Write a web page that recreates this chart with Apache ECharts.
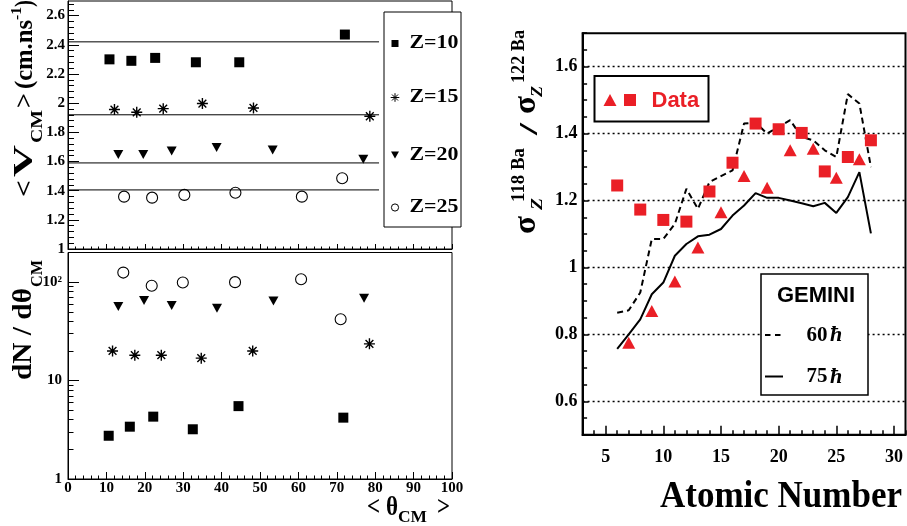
<!DOCTYPE html>
<html><head><meta charset="utf-8">
<script src="https://cdn.jsdelivr.net/npm/echarts@6/dist/echarts.min.js"></script>
<style>html,body{margin:0;padding:0;background:#fff}#c{width:907px;height:526px}</style>
</head><body><div id="c"></div>
<script>
// ---------------- data ----------------
const zLabels = ['Z=10', 'Z=15', 'Z=20', 'Z=25'];
// top-left panel: <V_CM> versus <theta_CM>
const vTheta10 = [10.8, 16.5, 22.7, 33.3, 44.6, 72.1];
const v10      = [2.30, 2.29, 2.31, 2.28, 2.28, 2.47];
const vTheta15 = [12.1, 17.9, 24.8, 35.0, 48.3, 78.6];
const v15      = [1.956, 1.937, 1.962, 1.997, 1.967, 1.91];
const vTheta20 = [13.1, 19.6, 27.0, 38.7, 53.3, 76.9];
const v20      = [1.648, 1.648, 1.671, 1.696, 1.678, 1.616];
const vTheta25 = [14.6, 21.9, 30.3, 43.6, 60.9, 71.4];
const v25      = [1.359, 1.352, 1.371, 1.386, 1.359, 1.485];
const vMeanLevels = [2.42, 1.92, 1.59, 1.405];
const vMeanThetaRange = [0, 81];
// bottom-left panel: dN/dtheta_CM versus <theta_CM>
const nTheta10 = [10.6, 16.1, 22.2, 32.5, 44.4, 71.7];
const n10      = [2.75, 3.4, 4.3, 3.2, 5.5, 4.2];
const nTheta15 = [11.6, 17.4, 24.3, 34.7, 48.1, 78.5];
const n15      = [20, 18.1, 18.1, 16.9, 20, 23.6];
const nTheta20 = [13.1, 19.8, 27.0, 38.8, 53.5, 77.1];
const n20      = [56.5, 65, 57.8, 54.4, 64.5, 68.7];
const nTheta25 = [14.4, 21.8, 29.9, 43.5, 60.7, 71.0];
const n25      = [125, 92, 99, 100, 107, 42];
// right panel: sigma ratio versus atomic number
const zSquares     = [6, 8, 10, 12, 14, 16, 18, 20, 22, 24, 26, 28];
const ratioSquares = [1.245, 1.173, 1.142, 1.137, 1.227, 1.313, 1.43, 1.413, 1.402, 1.287, 1.33, 1.38];
const zTriangles     = [7, 9, 11, 13, 15, 17, 19, 21, 23, 25, 27];
const ratioTriangles = [0.775, 0.87, 0.958, 1.06, 1.165, 1.273, 1.238, 1.35, 1.355, 1.268, 1.323];
const zGemini  = [6, 7, 8, 9, 10, 11, 12, 13, 14, 15, 16, 17, 18, 19, 20, 21, 22, 23, 24, 25, 26, 27, 28];
const gemini60 = [0.865, 0.872, 0.925, 1.085, 1.085, 1.13, 1.235, 1.175, 1.255, 1.273, 1.29, 1.43, 1.433, 1.40, 1.42, 1.44, 1.39, 1.38, 1.35, 1.33, 1.518, 1.49, 1.30];
const gemini75 = [0.757, 0.80, 0.845, 0.92, 0.955, 1.035, 1.07, 1.093, 1.098, 1.115, 1.155, 1.185, 1.222, 1.208, 1.208, 1.2, 1.192, 1.183, 1.193, 1.163, 1.21, 1.285, 1.102];
const geminiLabels = ['60 ', '75 '];
// tick labels
const thetaTicks = [0, 10, 20, 30, 40, 50, 60, 70, 80, 90, 100];
const vTicks     = [1, 1.2, 1.4, 1.6, 1.8, 2, 2.2, 2.4, 2.6];
const nTicks     = [1, 10, 100];
const zTicks     = [5, 10, 15, 20, 25, 30];
const ratioTicks = [0.6, 0.8, 1, 1.2, 1.4, 1.6];

// ---------------- helpers ----------------
const SERIF = '"Liberation Serif", "Times New Roman", serif';
const SANS = '"Liberation Sans", Arial, sans-serif';
const RED = '#ea1f26';
const ASTER = 'path://M5,0L5,10M0,5L10,5M1.46,1.46L8.54,8.54M8.54,1.46L1.46,8.54';
const zip = (a, b) => a.map((v, i) => [v, b[i]]);
function steps(a, b, s, skipMult) {
  const out = [];
  for (let k = 0; ; k++) {
    const v = Math.round((a + k * s) * 1000) / 1000;
    if (v > b + 1e-9) break;
    if (skipMult && Math.abs(v / skipMult - Math.round(v / skipMult)) < 1e-6) continue;
    out.push(v);
  }
  return out;
}
const logMinor = [2, 3, 4, 5, 6, 7, 8, 9, 20, 30, 40, 50, 60, 70, 80, 90, 200];

function mkAxis(o) {
  return {
    gridIndex: o.g, type: o.log ? 'log' : 'value', logBase: 10, min: o.min, max: o.max,
    position: o.pos, offset: 0,
    axisLine: { show: !!o.line, onZero: false, lineStyle: { color: '#000', width: o.lw || 1 } },
    axisTick: { show: true, inside: true, length: o.len, customValues: o.ticks, lineStyle: { color: '#000', width: o.tw || 1 } },
    axisLabel: o.labels ? { show: true, customValues: o.labels, margin: o.margin, color: '#000', fontFamily: SERIF, fontWeight: 'bold', fontSize: o.fs, formatter: o.fmt || (v => String(v)) } : { show: false },
    splitLine: o.split ? { show: true, lineStyle: { color: '#000', width: 1.3, type: [2, 3] } } : { show: false },
    minorTick: { show: false }, minorSplitLine: { show: false },
    splitArea: { show: false }
  };
}

const mctx = document.createElement('canvas').getContext('2d');
function fontStr(p, fam) { return (p.it ? 'italic ' : '') + 'bold ' + p.f + 'px ' + (fam || SERIF); }
function tw(t, font) { mctx.font = font; return mctx.measureText(t).width; }
// composite text: each part has local start x, target length, font size, baseline offset
function compText(ox, oy, rot, parts) {
  const kids = parts.map(p => {
    const font = fontStr(p);
    const w = tw(p.t, font);
    return {
      type: 'text', x: p.x, y: p.dy || 0, scaleX: p.len ? p.len / w : 1,
      style: { text: p.t, font: font, fill: '#000', align: 'left', verticalAlign: 'middle', textAlign: 'left', textVerticalAlign: 'middle' }
    };
  });
  return { type: 'group', x: ox, y: oy, rotation: rot, children: kids, z: 100 };
}
function txt(x, y, t, font, fill, align, len) {
  const w = tw(t, font);
  return { type: 'text', x: x, y: y, scaleX: len ? len / w : 1, z: 101,
    style: { text: t, font: font, fill: fill || '#000', align: align || 'left', verticalAlign: 'middle', textAlign: align || 'left', textVerticalAlign: 'middle' } };
}

// ---------------- axes ----------------
const xAxes = [
  mkAxis({ g: 0, min: 0, max: 100, pos: 'bottom', line: true, ticks: thetaTicks, len: 5 }),
  mkAxis({ g: 0, min: 0, max: 100, pos: 'bottom', ticks: steps(0, 100, 2, 10), len: 2.5 }),
  mkAxis({ g: 1, min: 0, max: 100, pos: 'bottom', line: true, ticks: thetaTicks, len: 7, labels: thetaTicks, margin: 1.5, fs: 15 }),
  mkAxis({ g: 1, min: 0, max: 100, pos: 'bottom', ticks: steps(0, 100, 2, 10), len: 3.5 }),
  mkAxis({ g: 2, min: 3, max: 31, pos: 'bottom', line: true, lw: 2, ticks: zTicks, len: 9, tw: 1.5, labels: zTicks, margin: 14, fs: 18 }),
  mkAxis({ g: 2, min: 3, max: 31, pos: 'bottom', ticks: steps(3, 31, 1, 5), len: 4.5, tw: 1.5 })
];
const yAxes = [
  mkAxis({ g: 0, min: 1, max: 2.7, pos: 'left', line: true, ticks: vTicks, len: 11, labels: vTicks, margin: 3, fs: 15 }),
  mkAxis({ g: 0, min: 1, max: 2.7, pos: 'left', ticks: steps(1, 2.7, 0.04, 0.2), len: 6 }),
  mkAxis({ g: 1, log: true, min: 1, max: 200, pos: 'left', line: true, ticks: nTicks, len: 11, labels: nTicks, margin: 6, fs: 15, fmt: v => (Math.abs(v - 100) < 1e-6 ? '10\u00b2' : String(Math.round(v))) }),
  mkAxis({ g: 1, log: true, min: 1, max: 200, pos: 'left', ticks: logMinor, len: 5.5 }),
  mkAxis({ g: 2, min: 0.5, max: 1.7, pos: 'left', line: true, lw: 2, ticks: ratioTicks, len: 6, tw: 1.5, labels: ratioTicks, margin: 5, fs: 18, split: true }),
  mkAxis({ g: 2, min: 0.5, max: 1.7, pos: 'left', ticks: steps(0.5, 1.7, 0.05, 0.2), len: 4.5, tw: 1.5 })
];

// ---------------- series ----------------
const blk = '#000';
function sc(name, xi, yi, data, sym, size, style, rot) {
  return { type: 'scatter', name, xAxisIndex: xi, yAxisIndex: yi, data, symbol: sym, symbolSize: size,
    symbolRotate: rot || 0, itemStyle: Object.assign({ opacity: 1 }, style), z: 3, silent: true };
}
const filled = { color: blk };
const starStyle = { color: 'rgba(0,0,0,0)', borderColor: blk, borderWidth: 1.4 };
const openStyle = { color: 'rgba(0,0,0,0)', borderColor: blk, borderWidth: 1.1 };
const series = [];
vMeanLevels.forEach(l => series.push({ type: 'line', xAxisIndex: 0, yAxisIndex: 0, silent: true, showSymbol: false, symbol: 'none',
  data: [[vMeanThetaRange[0], l], [vMeanThetaRange[1], l]], lineStyle: { color: blk, width: 1 }, z: 2 }));
series.push(
  sc(zLabels[0], 0, 0, zip(vTheta10, v10), 'rect', 10, filled),
  sc(zLabels[1], 0, 0, zip(vTheta15, v15), ASTER, 11, starStyle),
  sc(zLabels[2], 0, 0, zip(vTheta20, v20), 'triangle', [10, 9], filled, 180),
  sc(zLabels[3], 0, 0, zip(vTheta25, v25), 'circle', 11, openStyle),
  sc(zLabels[0], 2, 2, zip(nTheta10, n10), 'rect', 10, filled),
  sc(zLabels[1], 2, 2, zip(nTheta15, n15), ASTER, 11, starStyle),
  sc(zLabels[2], 2, 2, zip(nTheta20, n20), 'triangle', [10, 9], filled, 180),
  sc(zLabels[3], 2, 2, zip(nTheta25, n25), 'circle', 11, openStyle),
  { type: 'line', name: 'GEMINI 60', xAxisIndex: 4, yAxisIndex: 4, silent: true, showSymbol: false, symbol: 'none',
    data: zip(zGemini, gemini60), lineStyle: { color: blk, width: 2, type: [6, 4] }, z: 2 },
  { type: 'line', name: 'GEMINI 75', xAxisIndex: 4, yAxisIndex: 4, silent: true, showSymbol: false, symbol: 'none',
    data: zip(zGemini, gemini75), lineStyle: { color: blk, width: 2 }, z: 2 },
  sc('Data sq', 4, 4, zip(zSquares, ratioSquares), 'rect', 12, { color: RED }),
  sc('Data tri', 4, 4, zip(zTriangles, ratioTriangles), 'triangle', [13, 12], { color: RED })
);

// ---------------- graphics (legends, titles) ----------------
const g = [];
// top-left legend
g.push({ type: 'rect', z: 90, shape: { x: 384, y: 12, width: 77, height: 215 }, style: { fill: '#fff', stroke: '#000', lineWidth: 1 } });
const legY = [43.5, 97.5, 155, 207.5];
const mx = 395;
g.push({ type: 'rect', z: 95, shape: { x: mx - 3.5, y: legY[0] - 3.5, width: 7, height: 7 }, style: { fill: '#000' } });
[[0, 4.3], [4.3, 0], [3, 3], [3, -3]].forEach(([dx, dy]) => g.push({ type: 'line', z: 95,
  shape: { x1: mx - dx, y1: legY[1] - dy, x2: mx + dx, y2: legY[1] + dy }, style: { stroke: '#000', lineWidth: 1 } }));
g.push({ type: 'polygon', z: 95, shape: { points: [[mx - 4, legY[2] - 3.5], [mx + 4, legY[2] - 3.5], [mx, legY[2] + 3.5]] }, style: { fill: '#000' } });
g.push({ type: 'circle', z: 95, shape: { cx: mx, cy: legY[3], r: 3.6 }, style: { fill: 'none', stroke: '#000', lineWidth: 1 } });
zLabels.forEach((t, i) => g.push(txt(409.5, legY[i], t, fontStr({ f: 18 }), '#000', 'left', 49)));

// right "Data" legend
g.push({ type: 'rect', z: 90, shape: { x: 594.5, y: 76, width: 114, height: 45.5 }, style: { fill: '#fff', stroke: '#000', lineWidth: 2 } });
g.push({ type: 'polygon', z: 95, shape: { points: [[603.5, 106], [616.5, 106], [610, 94]] }, style: { fill: RED } });
g.push({ type: 'rect', z: 95, shape: { x: 624, y: 94, width: 12, height: 12 }, style: { fill: RED } });
g.push(txt(651.5, 101, 'Data', 'bold 22px ' + SANS, RED, 'left'));

// GEMINI legend
g.push({ type: 'rect', z: 90, shape: { x: 761, y: 274, width: 107, height: 121 }, style: { fill: '#fff', stroke: '#000', lineWidth: 1.5 } });
g.push(txt(816, 296, 'GEMINI', 'bold 22px ' + SANS, '#000', 'center'));
g.push({ type: 'line', z: 95, shape: { x1: 765, y1: 335, x2: 781, y2: 335 }, style: { stroke: '#000', lineWidth: 2, lineDash: [5.5, 4.5] } });
g.push({ type: 'line', z: 95, shape: { x1: 765, y1: 376.5, x2: 783, y2: 376.5 }, style: { stroke: '#000', lineWidth: 2 } });
[335.5, 377].forEach((yy, i) => {
  g.push(txt(806.5, yy, geminiLabels[i], 'bold 21px ' + SERIF, '#000', 'left'));
  g.push(txt(830, yy, '\u0127', 'italic bold 22px ' + SERIF, '#000', 'left'));
});

// axis titles
const R = Math.PI / 2;
g.push(compText(25, 197, R, [
  { t: '<', x: 0, len: 17, f: 26 },
  { t: 'V', x: 20, len: 32, f: 28 },
  { t: 'CM', x: 54, len: 33, f: 16, dy: 13 },
  { t: '>', x: 89, len: 15, f: 26 },
  { t: '(cm.ns', x: 108, len: 69, f: 26 },
  { t: '-1', x: 177, len: 13, f: 15, dy: -8 },
  { t: ')', x: 190, len: 7, f: 26 }
]));
g.push(compText(24, 380, R, [
  { t: 'dN / d\u03b8', x: 0, len: 92, f: 27 },
  { t: 'CM', x: 93, len: 27, f: 16, dy: 14 }
]));
g.push(compText(367, 508, 0, [
  { t: '< \u03b8', x: 0, len: 31, f: 27 },
  { t: 'CM', x: 31, len: 29, f: 16, dy: 10 },
  { t: '>', x: 70, len: 13, f: 27 }
]));
g.push(compText(530, 237, R, [
  { t: '\u03c3', x: 3, len: 18, f: 32, dy: -3 },
  { t: 'Z', x: 27, len: 12, f: 16, it: true, dy: 7.5 },
  { t: '118 Ba', x: 35, len: 54, f: 18, dy: -11 },
  { t: '/', x: 102, len: 12, f: 26 },
  { t: '\u03c3', x: 123, len: 18, f: 32, dy: -3 },
  { t: 'Z', x: 140, len: 11, f: 16, it: true, dy: 7.5 },
  { t: '122 Ba', x: 154, len: 53, f: 18, dy: -11 }
]));
g.push(txt(660, 497, 'Atomic Number', fontStr({ f: 37 }), '#000', 'left', 242));

// ---------------- chart ----------------
const chart = echarts.init(document.getElementById('c'));
chart.setOption({
  animation: false,
  backgroundColor: '#fff',
  grid: [
    { left: 68, top: 1, width: 384, height: 248, show: true, borderColor: '#000', borderWidth: 1, backgroundColor: 'transparent' },
    { left: 68, top: 252.5, width: 384, height: 226.5, show: true, borderColor: '#000', borderWidth: 1, backgroundColor: 'transparent' },
    { left: 582.6, top: 33.2, width: 322.9, height: 401.6, show: true, borderColor: '#000', borderWidth: 2, backgroundColor: 'transparent' }
  ],
  xAxis: xAxes,
  yAxis: yAxes,
  series: series,
  graphic: g
});
</script>
</body></html>
